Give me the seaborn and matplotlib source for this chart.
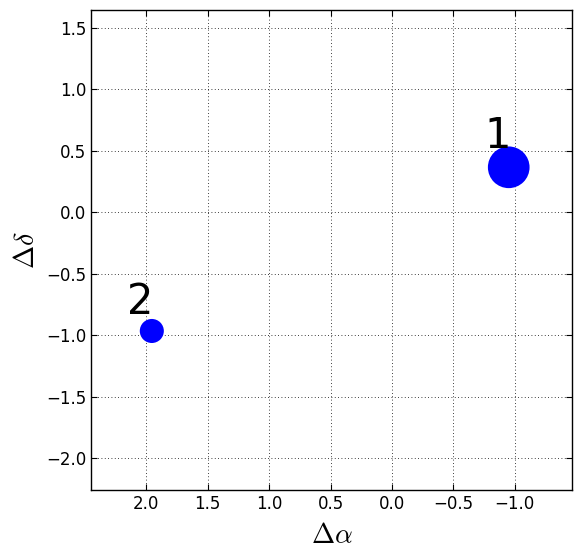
import matplotlib
matplotlib.use("Agg")
import matplotlib.pyplot as plt
import seaborn as sns
import pandas as pd

# source positions (offsets) and labels
labels = ["1", "2"]
d_alpha = [-0.95, 1.955]
d_delta = [0.366, -0.966]
label_x = [-0.86, 2.05]
label_y = [0.52, -0.83]

sns.set_style("ticks")
plt.rcParams.update({
    "font.family": ["DejaVu Sans"],
    "mathtext.fontset": "cm",
    "xtick.direction": "in",
    "ytick.direction": "in",
    "xtick.top": True,
    "ytick.right": True,
    "xtick.major.size": 4,
    "ytick.major.size": 4,
    "axes.edgecolor": "black",
    "axes.linewidth": 1.0,
    "xtick.color": "black",
    "ytick.color": "black",
    "text.color": "black",
    "axes.labelcolor": "black",
})

df = pd.DataFrame({"source": labels, "dra": d_alpha, "ddec": d_delta})

fig = plt.figure(figsize=(5.8, 5.58), dpi=100)
ax = fig.add_axes([91 / 580, 1 - 490 / 558, 481 / 580, 480 / 558])

sns.scatterplot(data=df, x="dra", y="ddec", size="source",
                sizes={"1": 900, "2": 300}, color="blue",
                edgecolor="none", legend=False, ax=ax, zorder=3)

for lab, lx, ly in zip(labels, label_x, label_y):
    ax.text(lx, ly, lab, fontsize=30, ha="center", va="baseline",
            color="black", zorder=4)

ax.set_xlim(2.45, -1.465)
ax.set_ylim(-2.26, 1.646)
ax.set_xticks([2.0, 1.5, 1.0, 0.5, 0.0, -0.5, -1.0])
ax.set_yticks([1.5, 1.0, 0.5, 0.0, -0.5, -1.0, -1.5, -2.0])
ax.tick_params(labelsize=12)
ax.grid(True, linestyle=(0, (1, 3)), color="black", linewidth=0.6)
ax.set_xlabel(r"$\Delta\alpha$", fontsize=20, labelpad=6)
ax.set_ylabel(r"$\Delta\delta$", fontsize=20)

fig.savefig("out.png", dpi=100)
